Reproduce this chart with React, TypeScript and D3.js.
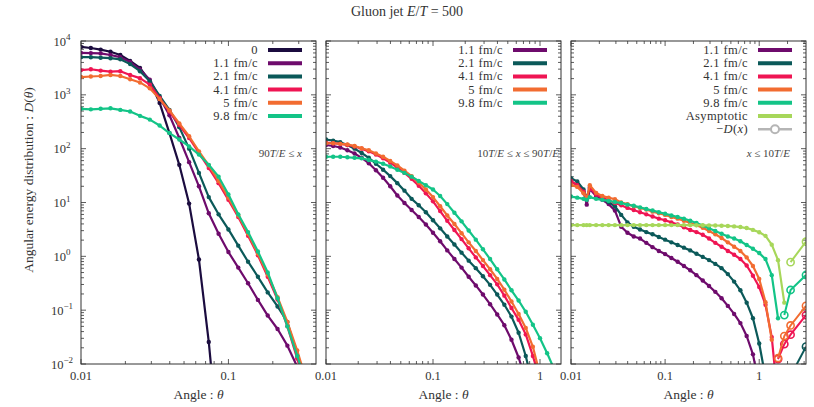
import * as d3 from "d3";

// angle grid used by the first two panels (panel 1 only uses the first 24 entries)
const angles = [
  0.01, 0.01166, 0.01359, 0.01585, 0.01848, 0.02154, 0.02512, 0.02929, 0.03415, 0.03981,
  0.04642, 0.05412, 0.0631, 0.07356, 0.08577, 0.1, 0.1166, 0.1359, 0.1585, 0.1848,
  0.2154, 0.2512, 0.2929, 0.3415, 0.3981, 0.4642, 0.5412, 0.631, 0.7356, 0.8577,
  1.0, 1.166, 1.359, 1.585,
];

// angle grid of the soft panel
const anglesSoft = [
  0.01, 0.01166, 0.01359, 0.0147, 0.01585, 0.01848, 0.02154, 0.02512, 0.02929, 0.03415,
  0.03981, 0.04642, 0.05412, 0.0631, 0.07356, 0.08577, 0.1, 0.1166, 0.1359, 0.1585,
  0.1848, 0.2154, 0.2512, 0.2929, 0.3415, 0.3981, 0.4642, 0.5412, 0.631, 0.7356,
  0.8577, 1.0, 1.166, 1.359, 1.585, 1.848, 2.154, 2.512, 2.929, 3.1416,
];

// panel 1 : 90T/E <= x
const hardT0 = [7760, 7410, 6920, 6310, 5500, 4270, 3160, 1780, 708, 195, 50.1, 9.55, 0.871, 0.0257, 0.000316];
const hardT11 = [6030, 5960, 5890, 5500, 5010, 4070, 2950, 1910, 891, 417, 158, 56.2, 20.0, 6.31, 2.63, 1.2, 0.617, 0.316, 0.155, 0.0794, 0.0447, 0.0219, 0.00891, 0.00398];
const hardT21 = [5010, 5000, 4900, 4790, 4570, 3720, 2750, 1780, 955, 525, 251, 100, 35.5, 12.6, 6.03, 3.16, 1.58, 0.794, 0.417, 0.214, 0.117, 0.0603, 0.0141, 0.00316];
const hardT41 = [2880, 2990, 2820, 2690, 2750, 2340, 2040, 1550, 871, 490, 275, 158, 83.2, 43.7, 22.9, 11.2, 5.37, 2.4, 1.05, 0.417, 0.158, 0.0501, 0.0126, 0.00316];
const hardT5 = [2140, 2190, 2240, 2340, 2240, 1950, 1700, 1320, 832, 513, 295, 170, 89.1, 49.0, 25.1, 12.3, 5.75, 2.63, 1.12, 0.457, 0.174, 0.0603, 0.0178, 0.00447];
const hardT98 = [550, 537, 550, 562, 525, 490, 407, 347, 269, 195, 148, 110, 77.6, 50.1, 30.2, 14.1, 6.03, 2.82, 1.23, 0.501, 0.166, 0.0501, 0.0141, 0.00398];

// panel 2 : 10T/E <= x <= 90T/E
const midT11 = [117, 112, 105, 93.3, 81.3, 67.6, 53.7, 39.8, 28.8, 20.0, 13.5, 9.77, 7.24, 5.37, 3.89, 2.75, 1.91, 1.29, 0.891, 0.617, 0.417, 0.288, 0.195, 0.129, 0.0832, 0.0525, 0.0282, 0.0132, 0.00501];
const midT21 = [148, 141, 132, 117, 100, 83.2, 67.6, 52.5, 40.7, 30.9, 22.9, 16.6, 11.7, 8.91, 6.61, 4.68, 3.31, 2.34, 1.66, 1.17, 0.832, 0.603, 0.427, 0.295, 0.195, 0.126, 0.0759, 0.038, 0.0141, 0.00398];
const midT41 = [129, 126, 123, 117, 110, 100, 89.1, 77.6, 66.1, 55.0, 44.7, 35.5, 27.5, 20.4, 14.8, 10.5, 6.92, 4.57, 3.09, 2.09, 1.41, 0.955, 0.661, 0.447, 0.302, 0.186, 0.11, 0.0661, 0.0355, 0.0141, 0.00501];
const midT5 = [126, 126, 123, 120, 112, 102, 93.3, 81.3, 70.8, 58.9, 49.0, 38.9, 30.9, 23.4, 17.4, 12.6, 8.51, 5.75, 3.98, 2.69, 1.82, 1.26, 0.851, 0.575, 0.38, 0.24, 0.145, 0.0851, 0.0468, 0.0209, 0.00631];
const midT98 = [70.8, 70.8, 70.8, 69.2, 67.6, 66.1, 61.7, 57.5, 52.5, 46.8, 40.7, 35.5, 30.2, 25.1, 20.9, 17.4, 13.2, 9.33, 6.46, 4.47, 3.02, 2.04, 1.35, 0.891, 0.575, 0.372, 0.234, 0.151, 0.0933, 0.0537, 0.0302, 0.0158, 0.00794];

// panel 3 : x <= 10T/E
const softT11 = [24.0, 21.4, 15.8, 9.12, 17.8, 13.2, 11.2, 9.33, 7.08, 3.55, 2.75, 2.34, 2.14, 1.78, 1.48, 1.26, 1.1, 0.933, 0.794, 0.661, 0.55, 0.447, 0.355, 0.282, 0.219, 0.166, 0.12, 0.0851, 0.0575, 0.0331, 0.0151, 0.00398];
const softT21 = [28.2, 24.5, 17.4, 12.0, 19.5, 14.5, 12.0, 10.2, 8.51, 5.89, 4.27, 3.55, 3.16, 2.82, 2.57, 2.29, 2.04, 1.82, 1.62, 1.45, 1.29, 1.12, 0.977, 0.851, 0.724, 0.603, 0.468, 0.339, 0.234, 0.138, 0.0708, 0.024, 0.00562];
const softT41 = [25.1, 20.9, 15.8, 12.0, 18.6, 14.1, 12.3, 11.0, 9.77, 8.91, 7.94, 7.24, 6.61, 6.03, 5.5, 5.01, 4.68, 4.27, 3.89, 3.47, 3.09, 2.82, 2.51, 2.14, 1.78, 1.51, 1.26, 1.07, 0.891, 0.676, 0.437, 0.269, 0.126, 0.0316, 0.002];
const softT5 = [21.4, 19.5, 14.8, 12.0, 20.9, 15.1, 13.2, 12.3, 11.5, 10.0, 9.33, 8.51, 7.94, 7.41, 6.76, 6.31, 5.89, 5.37, 5.01, 4.57, 4.17, 3.8, 3.39, 2.95, 2.57, 2.19, 1.82, 1.51, 1.26, 0.955, 0.661, 0.38, 0.141, 0.0282];
const softT98 = [12.9, 12.3, 11.7, 11.2, 12.6, 11.7, 11.2, 10.7, 10.2, 9.77, 9.12, 8.71, 8.13, 7.59, 7.08, 6.61, 6.17, 5.75, 5.37, 5.01, 4.57, 4.17, 3.72, 3.31, 2.95, 2.63, 2.34, 2.14, 1.91, 1.62, 1.38, 1.15, 0.891, 0.447, 0.0708];
const softAsym = [3.8, 3.8, 3.8, 3.8, 3.8, 3.8, 3.8, 3.8, 3.8, 3.8, 3.8, 3.8, 3.8, 3.8, 3.8, 3.8, 3.8, 3.8, 3.8, 3.8, 3.8, 3.79, 3.78, 3.76, 3.74, 3.71, 3.66, 3.6, 3.5, 3.35, 3.1, 2.8, 2.4, 1.65, 0.85, 0.138];

// where D(x) < 0 : [angle, -D]
const negT21: [number, number][] = [[2.154, 0.006], [3.1416, 0.021]];
const negT41: [number, number][] = [[1.585, 0.0123], [1.848, 0.0234], [2.154, 0.035], [3.1416, 0.081]];
const negT5: [number, number][] = [[1.585, 0.0129], [1.848, 0.033], [2.154, 0.052], [3.1416, 0.12]];
const negT98: [number, number][] = [[1.848, 0.081], [2.154, 0.237], [3.1416, 0.45]];
const negAsym: [number, number][] = [[2.154, 0.78], [3.1416, 1.87]];

const C = {
  t0: "#1b0c3f",
  t11: "#6e0b6c",
  t21: "#0b5959",
  t41: "#ef1553",
  t5: "#f26c31",
  t98: "#13c487",
  asym: "#a7d75a",
  neg: "#b5b5b5",
};

const FONT = "Liberation Serif, DejaVu Serif, Times New Roman, serif";
const TOP = 41;
const BOTTOM = 364;
const PANEL_W = 235;
const panelLeft = [81, 326, 571];
const LEG_Y0 = 50;
const LEG_DY = 13.2;

type Curve = { label: string; color: string; values: number[] };
type Neg = { color: string; pts: [number, number][] };

const panels: { xMax: number; grid: number[]; curves: Curve[]; negs: Neg[]; legendExtra: boolean }[] = [
  {
    xMax: Math.PI / 8,
    grid: angles,
    curves: [
      { label: "0", color: C.t0, values: hardT0 },
      { label: "1.1 fm/c", color: C.t11, values: hardT11 },
      { label: "2.1 fm/c", color: C.t21, values: hardT21 },
      { label: "4.1 fm/c", color: C.t41, values: hardT41 },
      { label: "5 fm/c", color: C.t5, values: hardT5 },
      { label: "9.8 fm/c", color: C.t98, values: hardT98 },
    ],
    negs: [],
    legendExtra: false,
  },
  {
    xMax: Math.PI / 2,
    grid: angles,
    curves: [
      { label: "1.1 fm/c", color: C.t11, values: midT11 },
      { label: "2.1 fm/c", color: C.t21, values: midT21 },
      { label: "4.1 fm/c", color: C.t41, values: midT41 },
      { label: "5 fm/c", color: C.t5, values: midT5 },
      { label: "9.8 fm/c", color: C.t98, values: midT98 },
    ],
    negs: [],
    legendExtra: false,
  },
  {
    xMax: Math.PI,
    grid: anglesSoft,
    curves: [
      { label: "1.1 fm/c", color: C.t11, values: softT11 },
      { label: "2.1 fm/c", color: C.t21, values: softT21 },
      { label: "4.1 fm/c", color: C.t41, values: softT41 },
      { label: "5 fm/c", color: C.t5, values: softT5 },
      { label: "9.8 fm/c", color: C.t98, values: softT98 },
      { label: "Asymptotic", color: C.asym, values: softAsym },
    ],
    negs: [
      { color: C.t21, pts: negT21 },
      { color: C.t41, pts: negT41 },
      { color: C.t5, pts: negT5 },
      { color: C.t98, pts: negT98 },
      { color: C.asym, pts: negAsym },
    ],
    legendExtra: true,
  },
];

const yScale = d3.scaleLog().domain([1e-2, 1e4]).range([BOTTOM, TOP]);
const yTicks = yScale.ticks();
const isMajor = (v: number) => Math.abs(Math.log10(v) - Math.round(Math.log10(v))) < 1e-6;
const serif = (size: number) => ({ fontFamily: FONT, fontSize: size });

function Note({ i }: { i: number }) {
  const it = { fontStyle: "italic" as const };
  const common = { style: serif(11), fill: "#444", textAnchor: "end" as const, y: 157 };
  if (i === 0)
    return (
      <text {...common} x={302}>
        90<tspan {...it}>T</tspan>/<tspan {...it}>E</tspan> ≤ <tspan {...it}>x</tspan>
      </text>
    );
  if (i === 1)
    return (
      <text {...common} x={559}>
        10<tspan {...it}>T</tspan>/<tspan {...it}>E</tspan> ≤ <tspan {...it}>x</tspan> ≤ 90
        <tspan {...it}>T</tspan>/<tspan {...it}>E</tspan>
      </text>
    );
  return (
    <text {...common} x={790}>
      <tspan {...it}>x</tspan> ≤ 10<tspan {...it}>T</tspan>/<tspan {...it}>E</tspan>
    </text>
  );
}

function Panel({ idx }: { idx: number }) {
  const p = panels[idx];
  const left = panelLeft[idx];
  const right = left + PANEL_W;
  const x = d3.scaleLog().domain([0.01, p.xMax]).range([left, right]);
  const xTicks = x.ticks().filter((t) => t <= p.xMax);
  const line = d3
    .line<[number, number]>()
    .x((d) => x(d[0]))
    .y((d) => yScale(d[1]));
  const clipId = `clip${idx}`;

  return (
    <g>
      <defs>
        <clipPath id={clipId}>
          <rect x={left} y={TOP} width={PANEL_W} height={BOTTOM - TOP} />
        </clipPath>
      </defs>

      {/* ticks, mirrored on all four sides */}
      <g stroke="#333" strokeWidth={0.8}>
        {xTicks.map((t) => {
          const len = isMajor(t) ? 5 : 3;
          return (
            <g key={`x${t}`}>
              <line x1={x(t)} x2={x(t)} y1={BOTTOM} y2={BOTTOM - len} />
              <line x1={x(t)} x2={x(t)} y1={TOP} y2={TOP + len} />
            </g>
          );
        })}
        {yTicks.map((t) => {
          const len = isMajor(t) ? 5 : 3;
          return (
            <g key={`y${t}`}>
              <line x1={left} x2={left + len} y1={yScale(t)} y2={yScale(t)} />
              <line x1={right} x2={right - len} y1={yScale(t)} y2={yScale(t)} />
            </g>
          );
        })}
      </g>

      <g clipPath={`url(#${clipId})`}>
        {p.curves.map((c) => {
          const pts = c.values.map((v, i) => [p.grid[i], v] as [number, number]);
          return (
            <g key={c.label}>
              <path d={line(pts) ?? ""} fill="none" stroke={c.color} strokeWidth={2.2} strokeLinejoin="round" />
              {pts.map((d, i) => (
                <circle key={i} cx={x(d[0])} cy={yScale(d[1])} r={2.2} fill={c.color} />
              ))}
            </g>
          );
        })}
        {p.negs.map((n, k) => (
          <g key={`n${k}`}>
            <path d={line(n.pts) ?? ""} fill="none" stroke={n.color} strokeWidth={2} />
            {n.pts.map((d, i) => (
              <circle key={i} cx={x(d[0])} cy={yScale(d[1])} r={3.6} fill="none" stroke={n.color} strokeWidth={1.6} />
            ))}
          </g>
        ))}
      </g>

      <rect x={left} y={TOP} width={PANEL_W} height={BOTTOM - TOP} fill="none" stroke="#333" strokeWidth={1} />

      {/* x tick labels */}
      {xTicks.filter(isMajor).map((t) => (
        <text key={`xl${t}`} x={x(t)} y={380} textAnchor="middle" style={serif(12.5)} fill="#333">
          {t >= 1 ? d3.format("d")(t) : String(t)}
        </text>
      ))}
      <text x={(left + right) / 2} y={399} textAnchor="middle" style={serif(13.5)} fill="#333">
        Angle : <tspan fontStyle="italic">θ</tspan>
      </text>

      {/* legend */}
      {p.curves.map((c, i) => {
        const cy = LEG_Y0 + i * LEG_DY;
        return (
          <g key={`lg${i}`}>
            <text x={right - 58} y={cy + 4} textAnchor="end" style={{ ...serif(12.5), letterSpacing: 0.4 }} fill="#333">
              {c.label}
            </text>
            <line x1={right - 48} x2={right - 14} y1={cy} y2={cy} stroke={c.color} strokeWidth={4} />
          </g>
        );
      })}
      {p.legendExtra && (
        <g>
          <text x={right - 58} y={LEG_Y0 + 6 * LEG_DY + 4} textAnchor="end" style={{ ...serif(12.5), letterSpacing: 0.4 }} fill="#333">
            −<tspan fontStyle="italic">D</tspan>(<tspan fontStyle="italic">x</tspan>)
          </text>
          <line x1={right - 48} x2={right - 14} y1={LEG_Y0 + 6 * LEG_DY} y2={LEG_Y0 + 6 * LEG_DY} stroke={C.neg} strokeWidth={2.5} />
          <circle cx={right - 31} cy={LEG_Y0 + 6 * LEG_DY} r={4} fill="white" stroke={C.neg} strokeWidth={2} />
        </g>
      )}

      <Note i={idx} />
    </g>
  );
}

export default function App() {
  return (
    <svg
      width={814}
      height={407}
      viewBox="0 0 814 407"
      style={{ position: "absolute", left: 0, top: 0, background: "white" }}
    >
      <rect width={814} height={407} fill="white" />
      <text x={407} y={16} textAnchor="middle" style={serif(14)} fill="#333">
        Gluon jet <tspan fontStyle="italic">E</tspan>/<tspan fontStyle="italic">T</tspan> = 500
      </text>

      {/* y tick labels (left panel only) */}
      {yTicks.filter(isMajor).map((t) => {
        const e = Math.round(Math.log10(t));
        return (
          <text key={`yl${t}`} x={62} y={yScale(t) + 4.5} textAnchor="middle" style={serif(12.5)} fill="#333">
            10
            <tspan dy={-5.5} fontSize={9}>
              {e < 0 ? `−${-e}` : `${e}`}
            </tspan>
          </text>
        );
      })}

      <text transform="translate(33,180) rotate(-90)" textAnchor="middle" style={serif(13.5)} fill="#333">
        Angular energy distribution : <tspan fontStyle="italic">D</tspan>(<tspan fontStyle="italic">θ</tspan>)
      </text>

      {panels.map((_, i) => (
        <Panel key={i} idx={i} />
      ))}
    </svg>
  );
}
